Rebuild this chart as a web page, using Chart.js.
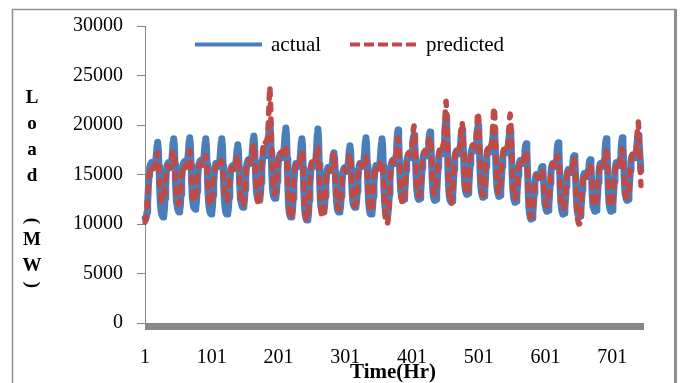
<!DOCTYPE html>
<html>
<head>
<meta charset="utf-8">
<script src="https://cdn.jsdelivr.net/npm/chart.js@4.4.1/dist/chart.umd.min.js"></script>
<style>
  body { margin: 0; background: #fff; }
  #wrap { width: 680px; height: 383px; }
</style>
</head>
<body>
<div id="wrap"><canvas id="loadChart"></canvas></div>
<script>
// hourly load in MW, one row per day (31 days, 744 hours)
const actual = [
	10600, 10500, 10700, 11200, 12200, 13600, 14900, 15700, 16000, 16100, 16200, 16100, 15900, 15800, 15900, 16100, 16400, 17000, 17900, 18250, 17600, 15800, 13600, 12100,
	11400, 11000, 10800, 10700, 10800, 11400, 12600, 13900, 15300, 15900, 16100, 16200, 16000, 15800, 15900, 16100, 16400, 17200, 18200, 18600, 17900, 16000, 13700, 12300,
	11900, 11500, 11300, 11200, 11300, 11900, 13000, 14400, 15500, 16000, 16200, 16300, 16100, 15900, 16000, 16200, 16500, 17300, 18300, 18700, 18000, 15900, 14000, 12600,
	12100, 11700, 11600, 11500, 11600, 12200, 13300, 14600, 15600, 16100, 16300, 16400, 16200, 16000, 16100, 16300, 16600, 17300, 18200, 18600, 17900, 16000, 13900, 12400,
	11700, 11300, 11100, 11000, 11100, 11700, 12900, 14200, 15300, 15800, 16100, 16100, 15900, 15800, 15800, 16000, 16400, 17200, 18200, 18600, 17900, 15800, 13700, 12300,
	11600, 11200, 11000, 11000, 11100, 11600, 12700, 14000, 15100, 15600, 15800, 15900, 15700, 15600, 15600, 15800, 16100, 16800, 17600, 18000, 17400, 15600, 13800, 12500,
	12200, 11900, 11700, 11700, 11800, 12400, 13500, 14800, 15800, 16200, 16400, 16500, 16300, 16100, 16200, 16400, 16800, 17600, 18500, 18900, 18200, 16300, 14500, 13200,
	12800, 12500, 12400, 12400, 12500, 13100, 14200, 15500, 16500, 16900, 17100, 17200, 17000, 16900, 17000, 17300, 17800, 18700, 19700, 20200, 19300, 17200, 15000, 13600,
	13000, 12700, 12600, 12600, 12700, 13200, 14300, 15500, 16400, 16800, 17000, 17000, 16800, 16700, 16800, 17000, 17400, 18200, 19200, 19700, 18900, 16600, 13800, 11900,
	11200, 10900, 10700, 10700, 10800, 11400, 12600, 14000, 15200, 15800, 16100, 16100, 15900, 15800, 15800, 16000, 16400, 17200, 18200, 18600, 17900, 15600, 13200, 11600,
	10900, 10600, 10400, 10400, 10500, 11100, 12400, 13900, 15100, 15800, 16100, 16200, 16000, 15800, 15900, 16100, 16600, 17600, 19000, 19600, 18700, 16000, 13500, 12000,
	11600, 11300, 11200, 11200, 11300, 11800, 12800, 14000, 15000, 15500, 15700, 15700, 15500, 15400, 15400, 15600, 15900, 16400, 17000, 17200, 16700, 15200, 13400, 12200,
	11600, 11300, 11200, 11200, 11300, 11800, 12800, 14000, 14900, 15400, 15600, 15700, 15500, 15300, 15400, 15600, 15900, 16600, 17500, 17900, 17300, 15500, 13600, 12400,
	12000, 11800, 11700, 11700, 11800, 12300, 13300, 14500, 15400, 15900, 16100, 16100, 15900, 15800, 15900, 16100, 16500, 17300, 18300, 18700, 18000, 15900, 13700, 12200,
	11500, 11100, 11000, 11000, 11100, 11700, 12800, 14100, 15100, 15600, 15900, 15900, 15700, 15600, 15700, 15900, 16300, 17100, 18100, 18600, 17900, 15800, 13600, 12100,
	11400, 11100, 11000, 11000, 11100, 11800, 13000, 14500, 15600, 16100, 16300, 16400, 16200, 16100, 16200, 16400, 16900, 17900, 19000, 19500, 18700, 16600, 14600, 13400,
	12900, 12600, 12400, 12400, 12500, 13100, 14200, 15400, 16300, 16700, 16900, 17000, 16800, 16700, 16800, 17000, 17400, 18100, 18800, 19000, 18400, 16800, 14900, 13600,
	12900, 12600, 12500, 12500, 12600, 13200, 14300, 15600, 16500, 16900, 17100, 17200, 17000, 16900, 17000, 17200, 17600, 18300, 19000, 19300, 18600, 16900, 14800, 13500,
	12800, 12500, 12400, 12400, 12500, 13200, 14400, 15700, 16700, 17100, 17300, 17400, 17200, 17100, 17200, 17500, 18000, 19000, 20200, 20800, 19900, 17600, 15000, 13400,
	12700, 12400, 12300, 12200, 12300, 12900, 14100, 15500, 16600, 17100, 17300, 17400, 17200, 17100, 17200, 17400, 17800, 18500, 19300, 19500, 19000, 17400, 15300, 13900,
	13400, 13100, 13000, 13000, 13100, 13700, 14800, 16000, 16900, 17400, 17600, 17700, 17500, 17400, 17500, 17700, 18100, 18800, 19600, 19900, 19300, 17500, 15300, 13800,
	13200, 12900, 12700, 12700, 12800, 13400, 14500, 15800, 16800, 17300, 17500, 17600, 17400, 17300, 17400, 17600, 18000, 18700, 19400, 19600, 19000, 17300, 15200, 13900,
	13300, 13000, 12800, 12800, 12900, 13500, 14600, 15800, 16700, 17200, 17400, 17500, 17300, 17200, 17300, 17500, 17900, 18600, 19200, 19400, 18800, 17100, 15000, 13500,
	12700, 12400, 12200, 12200, 12300, 12800, 13800, 14900, 15800, 16200, 16400, 16400, 16200, 16100, 16200, 16400, 16700, 17300, 17900, 18100, 17500, 15600, 13300, 11700,
	11100, 10700, 10500, 10500, 10600, 11100, 12000, 13100, 14100, 14700, 15000, 15000, 14800, 14700, 14700, 14900, 15100, 15400, 15700, 15800, 15500, 14400, 13000, 12000,
	11700, 11400, 11300, 11300, 11400, 11900, 12900, 14100, 15100, 15700, 16000, 16100, 15900, 15800, 15900, 16100, 16400, 17100, 17900, 18200, 17600, 15600, 13500, 12100,
	11500, 11200, 11000, 11000, 11100, 11600, 12600, 13800, 14800, 15300, 15500, 15500, 15300, 15200, 15300, 15500, 15800, 16300, 16800, 16900, 16400, 14800, 12900, 11600,
	11100, 10800, 10700, 10700, 10800, 11300, 12300, 13400, 14400, 14900, 15100, 15100, 14900, 14800, 14900, 15100, 15400, 15900, 16400, 16500, 16000, 14600, 12900, 11800,
	11600, 11400, 11300, 11300, 11400, 11900, 13000, 14200, 15200, 15800, 16100, 16100, 15900, 15800, 15900, 16100, 16500, 17300, 18200, 18600, 17900, 15700, 13500, 12100,
	11700, 11400, 11300, 11300, 11400, 12000, 13100, 14300, 15300, 15900, 16200, 16200, 16000, 15900, 16000, 16200, 16600, 17400, 18300, 18700, 18100, 16200, 14300, 13100,
	12800, 12500, 12400, 12400, 12500, 13100, 14200, 15400, 16300, 16700, 16900, 17000, 16800, 16700, 16800, 17000, 17400, 18100, 18800, 19000, 18500, 17400, 16300, 15400
];

const predicted = [
	10200, 10400, 10900, 11600, 12600, 13800, 14800, 15400, 15700, 15800, 15900, 15900, 15700, 15600, 15700, 15900, 16200, 16600, 17000, 17200, 16700, 15300, 13800, 12900,
	12500, 12300, 12200, 12200, 12400, 12900, 13700, 14600, 15300, 15700, 15900, 15900, 15700, 15600, 15700, 15900, 16200, 16700, 17200, 17400, 16900, 15400, 13900, 12900,
	12400, 12100, 12000, 12000, 12200, 12800, 13700, 14700, 15400, 15800, 16000, 16000, 15800, 15700, 15800, 16000, 16300, 16800, 17200, 17400, 16900, 15400, 13900, 12900,
	12600, 12400, 12300, 12300, 12500, 13100, 14000, 14900, 15600, 15900, 16100, 16100, 15900, 15800, 15900, 16100, 16300, 16600, 16800, 16900, 16500, 15300, 13900, 12800,
	12300, 12000, 11900, 11900, 12100, 12700, 13600, 14600, 15300, 15700, 15900, 15900, 15700, 15600, 15700, 15900, 16100, 16300, 16400, 16400, 16000, 15000, 13800, 12900,
	12600, 12400, 12300, 12300, 12500, 13000, 13800, 14700, 15300, 15600, 15700, 15700, 15500, 15400, 15500, 15700, 16000, 16400, 16800, 16900, 16500, 15200, 13800, 12700,
	12200, 12000, 11900, 11900, 12100, 12700, 13700, 14900, 15800, 16300, 16500, 16500, 16300, 16200, 16300, 16500, 16900, 17400, 17900, 18100, 17500, 16000, 14400, 13100,
	12500, 12200, 12000, 12000, 12300, 13100, 14500, 16000, 17200, 17900, 18200, 18400, 18300, 18200, 18300, 18600, 19200, 20500, 22600, 23900, 22300, 19800, 17200, 15000,
	13800, 13300, 13000, 13000, 13300, 14100, 15200, 16200, 16800, 17000, 17200, 17300, 17100, 17000, 17100, 17300, 17500, 17700, 17900, 17900, 17300, 15600, 13600, 12000,
	11300, 10800, 10600, 10500, 10700, 11400, 12600, 14000, 15100, 15800, 16100, 16100, 15900, 15800, 15900, 16100, 16400, 16900, 17300, 17400, 16900, 15300, 13400, 11800,
	11000, 10600, 10400, 10400, 10700, 11500, 12800, 14300, 15400, 16000, 16300, 16300, 16100, 16000, 16100, 16300, 16700, 17200, 17600, 17800, 17200, 15500, 13400, 11700,
	11100, 10800, 10700, 10700, 10900, 11600, 12700, 13900, 14900, 15400, 15600, 15600, 15400, 15300, 15400, 15600, 15900, 16500, 17000, 17200, 16700, 15200, 13600, 12500,
	12000, 11700, 11500, 11500, 11700, 12300, 13200, 14200, 15000, 15400, 15600, 15600, 15400, 15300, 15400, 15600, 15900, 16400, 16900, 17100, 16600, 15200, 13700, 12600,
	12100, 11900, 11800, 11800, 12000, 12600, 13500, 14600, 15400, 15900, 16100, 16100, 15900, 15800, 15900, 16100, 16300, 16600, 16800, 16800, 16400, 15200, 13600, 12300,
	11800, 11500, 11300, 11300, 11500, 12100, 13100, 14200, 15100, 15600, 15900, 15900, 15700, 15600, 15700, 15900, 16100, 16300, 16400, 16400, 16000, 14700, 12900, 11400,
	10600, 10200, 10000, 10000, 10300, 11200, 12600, 14200, 15400, 16100, 16400, 16500, 16300, 16200, 16300, 16500, 16900, 17700, 18400, 18700, 18100, 16500, 14700, 13200,
	12600, 12200, 12000, 12000, 12300, 13100, 14300, 15600, 16500, 16900, 17100, 17200, 17000, 16900, 17000, 17300, 17800, 18700, 19600, 19900, 19200, 17300, 15200, 13800,
	13200, 12900, 12800, 12800, 13000, 13700, 14800, 15900, 16700, 17100, 17300, 17400, 17200, 17100, 17200, 17400, 17800, 18300, 18700, 18800, 18300, 16800, 14900, 13800,
	13400, 13100, 13000, 13000, 13300, 14000, 15100, 16300, 17100, 17500, 17700, 17800, 17600, 17500, 17700, 18000, 18700, 20000, 21600, 22400, 21200, 18500, 15700, 13600,
	12500, 12200, 12100, 12100, 12400, 13100, 14300, 15600, 16600, 17200, 17500, 17600, 17400, 17300, 17400, 17700, 18200, 19000, 19900, 20300, 19700, 17800, 15600, 14000,
	13500, 13100, 13000, 13000, 13300, 14100, 15300, 16500, 17300, 17700, 17900, 18000, 17800, 17700, 17800, 18100, 18700, 19700, 20800, 21300, 20500, 18300, 15800, 14200,
	13400, 13100, 12900, 12900, 13200, 14000, 15200, 16400, 17200, 17700, 17900, 18000, 17800, 17700, 17900, 18200, 18800, 19900, 21200, 21800, 20900, 18500, 16000, 14400,
	13600, 13300, 13100, 13100, 13400, 14100, 15200, 16300, 17100, 17500, 17700, 17800, 17600, 17500, 17600, 17900, 18500, 19500, 20600, 21100, 20300, 18000, 15400, 13600,
	12900, 12600, 12500, 12500, 12700, 13300, 14200, 15100, 15800, 16200, 16400, 16400, 16200, 16100, 16200, 16400, 16700, 17000, 17300, 17400, 16900, 15300, 13300, 11900,
	11100, 10800, 10700, 10700, 10900, 11500, 12400, 13300, 14100, 14600, 14900, 14900, 14700, 14600, 14700, 14900, 15100, 15300, 15400, 15400, 15100, 14200, 13200, 12400,
	12200, 11900, 11800, 11800, 12000, 12500, 13400, 14400, 15200, 15700, 16000, 16100, 15900, 15800, 15900, 16100, 16400, 16700, 16900, 16900, 16500, 15200, 13600, 12300,
	11900, 11600, 11500, 11500, 11700, 12200, 13100, 14100, 14900, 15300, 15500, 15500, 15300, 15200, 15300, 15500, 15800, 16200, 16600, 16700, 16200, 14700, 12800, 11200,
	10500, 10200, 10000, 10000, 10300, 11100, 12300, 13500, 14400, 14900, 15100, 15100, 14900, 14800, 14900, 15100, 15400, 15700, 15900, 16000, 15600, 14400, 13000, 12200,
	12100, 11900, 11800, 11800, 12000, 12600, 13500, 14600, 15400, 15900, 16100, 16100, 15900, 15800, 15900, 16100, 16400, 16900, 17300, 17400, 16900, 15500, 13800, 12700,
	12100, 11900, 11800, 11800, 12000, 12600, 13500, 14600, 15400, 15900, 16200, 16200, 16000, 15900, 16000, 16200, 16500, 17000, 17400, 17600, 17100, 15700, 14200, 13100,
	13000, 12700, 12600, 12600, 12800, 13500, 14600, 15700, 16500, 16900, 17100, 17200, 17000, 16900, 17000, 17300, 17900, 18900, 19900, 20300, 19200, 17200, 15400, 13900
];

// category axis: hour numbers 1..744, labelled every 100
const hours = actual.map(function (v, i) { return i + 1; });
const xTitle = 'Time(Hr)';
const yTitle = 'Load (MW)';

const serif = '"Liberation Serif", "Times New Roman", serif';
const blue = '#4a7ebb';
const red = '#be4b48';
const gray = '#868686';

// grey box around the whole chart
const framePlugin = {
	id: 'frame',
	beforeDraw: function (chart) {
		const ctx = chart.ctx;
		ctx.save();
		ctx.fillStyle = '#fff';
		ctx.fillRect(0, 0, chart.width, chart.height);
		ctx.strokeStyle = '#8f8f8f';
		ctx.lineWidth = 1.5;
		ctx.beginPath();
		ctx.moveTo(12.5, chart.height + 5);
		ctx.lineTo(12.5, 9.5);
		ctx.lineTo(675.5, 9.5);
		ctx.stroke();
		ctx.lineWidth = 3;
		ctx.beginPath();
		ctx.moveTo(675.5, 9);
		ctx.lineTo(675.5, chart.height + 5);
		ctx.stroke();
		ctx.restore();
	}
};

// thick grey base line under the plot, stacked y title, legend inside the plot
const extrasPlugin = {
	id: 'extras',
	afterDraw: function (chart) {
		const ctx = chart.ctx;
		const area = chart.chartArea;
		ctx.save();

		ctx.fillStyle = '#878787';
		ctx.fillRect(area.left, area.bottom, area.right - area.left + 3, 7);

		// y title, one letter per line, brackets turned sideways
		ctx.fillStyle = '#000';
		ctx.font = 'bold 19px ' + serif;
		ctx.textAlign = 'center';
		ctx.textBaseline = 'middle';
		let y = 98;
		let prevHalf = 0;
		yTitle.split('').forEach(function (ch, i) {
			const paren = ch === '(' || ch === ')';
			const half = paren ? 6 : 13;
			if (i > 0) y += prevHalf + half;
			prevHalf = half;
			if (ch === ' ') return;
			ctx.save();
			ctx.translate(32, y);
			if (paren) ctx.rotate(Math.PI / 2);
			ctx.fillText(ch, 0, 0);
			ctx.restore();
		});

		// legend
		const ds = chart.data.datasets;
		const items = [
			{ x: 195, text: 271, ds: ds[0], dash: [] },
			{ x: 350, text: 426, ds: ds[1], dash: [10, 4] }
		];
		ctx.font = '21px ' + serif;
		ctx.textAlign = 'left';
		items.forEach(function (it) {
			ctx.strokeStyle = it.ds.borderColor;
			ctx.lineWidth = 4;
			ctx.lineCap = 'butt';
			ctx.setLineDash(it.dash);
			ctx.beginPath();
			ctx.moveTo(it.x, 44.5);
			ctx.lineTo(it.x + 67, 44.5);
			ctx.stroke();
			ctx.setLineDash([]);
			ctx.fillStyle = '#000';
			ctx.fillText(it.ds.label, it.text, 45);
		});
		ctx.restore();
	}
};

const ctx = document.getElementById('loadChart').getContext('2d');
const loadChart = new Chart(ctx, {
	type: 'line',
	data: {
		labels: hours,
		datasets: [{
			label: 'actual',
			data: actual,
			borderColor: blue,
			borderWidth: 7,
			borderJoinStyle: 'round',
			borderCapStyle: 'round',
			pointRadius: 0,
			order: 1
		}, {
			label: 'predicted',
			data: predicted,
			borderColor: red,
			borderWidth: 5.5,
			borderDash: [6, 9],
			borderCapStyle: 'round',
			borderJoinStyle: 'round',
			pointRadius: 0,
			order: 0
		}]
	},
	options: {
		responsive: true,
		maintainAspectRatio: false,
		animation: false,
		layout: {
			padding: { left: 0, right: 39, top: 25, bottom: 0 }
		},
		plugins: {
			legend: { display: false },
			tooltip: { enabled: false }
		},
		scales: {
			x: {
				type: 'category',
				grid: { display: false, drawTicks: false },
				border: { display: false },
				ticks: {
					autoSkip: false,
					maxRotation: 0,
					padding: 23,
					color: '#000',
					font: { family: serif, size: 20 },
					callback: function (value, index) {
						return index % 100 === 0 ? this.getLabelForValue(value) : null;
					}
				},
				title: {
					display: true,
					text: xTitle,
					color: '#000',
					padding: { top: 0, bottom: 0 },
					font: { family: serif, size: 21, weight: 'bold', lineHeight: 1 }
				},
				afterFit: function (scale) { scale.height = 60; }
			},
			y: {
				min: 0,
				max: 30000,
				grid: {
					drawOnChartArea: false,
					drawTicks: true,
					tickLength: 8,
					color: gray
				},
				border: { display: true, color: gray, width: 1 },
				ticks: {
					stepSize: 5000,
					padding: 14,
					color: '#000',
					font: { family: serif, size: 20 },
					callback: function (value) { return String(value); }
				},
				afterFit: function (scale) { scale.width = 145; }
			}
		}
	},
	plugins: [framePlugin, extrasPlugin]
});
</script>
</body>
</html>
